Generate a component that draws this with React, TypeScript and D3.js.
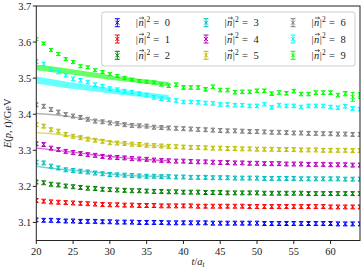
import * as d3 from 'd3';
import React from 'react';

const width = 363;
const height = 273;
const margin = { top: 6, right: 3, bottom: 32.5, left: 36.3 };

// t / a_t
const times = d3.range(20, 65);

const xTicks = [20, 25, 30, 35, 40, 45, 50, 55, 60];
const yTicks = [3.1, 3.2, 3.3, 3.4, 3.5, 3.6, 3.7];

// E(p,t) effective energies, one array per |n|^2
const e0 = [
  3.107, 3.106, 3.106, 3.105, 3.104, 3.104, 3.103, 3.103, 3.103, 3.102,
  3.102, 3.101, 3.101, 3.101, 3.100, 3.100, 3.100, 3.100, 3.099, 3.099,
  3.099, 3.099, 3.099, 3.099, 3.098, 3.098, 3.098, 3.098, 3.098, 3.098,
  3.098, 3.097, 3.097, 3.097, 3.097, 3.097, 3.097, 3.097, 3.097, 3.097,
  3.097, 3.096, 3.096, 3.096, 3.096,
];
const e1 = [
  3.161, 3.159, 3.157, 3.156, 3.155, 3.154, 3.153, 3.152, 3.151, 3.150,
  3.149, 3.149, 3.148, 3.148, 3.147, 3.147, 3.147, 3.146, 3.146, 3.146,
  3.146, 3.146, 3.145, 3.145, 3.145, 3.145, 3.145, 3.145, 3.145, 3.144,
  3.144, 3.144, 3.144, 3.144, 3.144, 3.144, 3.144, 3.144, 3.144, 3.144,
  3.143, 3.143, 3.143, 3.143, 3.143,
];
const e2 = [
  3.212, 3.210, 3.206, 3.204, 3.201, 3.199, 3.197, 3.195, 3.194, 3.192,
  3.191, 3.190, 3.189, 3.188, 3.188, 3.187, 3.186, 3.186, 3.185, 3.185,
  3.184, 3.184, 3.184, 3.183, 3.183, 3.183, 3.182, 3.182, 3.182, 3.182,
  3.182, 3.181, 3.181, 3.181, 3.181, 3.181, 3.181, 3.180, 3.180, 3.180,
  3.180, 3.180, 3.180, 3.180, 3.180,
];
const e3 = [
  3.267, 3.265, 3.256, 3.251, 3.246, 3.244, 3.242, 3.240, 3.237, 3.235,
  3.233, 3.232, 3.231, 3.230, 3.229, 3.228, 3.228, 3.227, 3.227, 3.226,
  3.226, 3.225, 3.225, 3.225, 3.224, 3.224, 3.224, 3.223, 3.223, 3.223,
  3.223, 3.222, 3.222, 3.222, 3.222, 3.222, 3.221, 3.221, 3.221, 3.221,
  3.221, 3.221, 3.220, 3.220, 3.220,
];
const e4 = [
  3.318, 3.316, 3.306, 3.302, 3.297, 3.294, 3.291, 3.288, 3.286, 3.283,
  3.281, 3.280, 3.279, 3.277, 3.276, 3.275, 3.273, 3.272, 3.271, 3.270,
  3.270, 3.269, 3.268, 3.268, 3.267, 3.266, 3.266, 3.265, 3.265, 3.264,
  3.264, 3.263, 3.263, 3.263, 3.262, 3.262, 3.262, 3.261, 3.261, 3.261,
  3.260, 3.260, 3.260, 3.259, 3.259,
];
const e5 = [
  3.371, 3.367, 3.357, 3.353, 3.344, 3.339, 3.335, 3.331, 3.328, 3.325,
  3.321, 3.320, 3.319, 3.317, 3.316, 3.314, 3.313, 3.312, 3.311, 3.310,
  3.309, 3.308, 3.308, 3.307, 3.306, 3.306, 3.305, 3.305, 3.304, 3.304,
  3.303, 3.303, 3.303, 3.302, 3.302, 3.302, 3.301, 3.301, 3.301, 3.300,
  3.300, 3.300, 3.300, 3.299, 3.299,
];
const e6 = [
  3.426, 3.422, 3.413, 3.406, 3.399, 3.395, 3.391, 3.386, 3.381, 3.379,
  3.376, 3.374, 3.371, 3.369, 3.368, 3.367, 3.364, 3.363, 3.362, 3.361,
  3.360, 3.359, 3.358, 3.357, 3.356, 3.355, 3.354, 3.354, 3.353, 3.352,
  3.352, 3.351, 3.350, 3.350, 3.349, 3.348, 3.348, 3.347, 3.347, 3.346,
  3.346, 3.345, 3.345, 3.344, 3.344,
];
const e8 = [
  3.546, 3.539, 3.524, 3.517, 3.508, 3.498, 3.494, 3.489, 3.482, 3.478,
  3.471, 3.468, 3.464, 3.461, 3.457, 3.453, 3.447, 3.443, 3.440, 3.438,
  3.434, 3.434, 3.433, 3.431, 3.430, 3.427, 3.427, 3.425, 3.425, 3.423,
  3.423, 3.428, 3.419, 3.425, 3.423, 3.423, 3.420, 3.423, 3.423, 3.423,
  3.420, 3.418, 3.422, 3.416, 3.414,
];
const e9 = [
  3.608, 3.596, 3.578, 3.567, 3.553, 3.545, 3.533, 3.530, 3.522, 3.517,
  3.511, 3.506, 3.501, 3.496, 3.492, 3.490, 3.488, 3.482, 3.479, 3.482,
  3.474, 3.474, 3.474, 3.469, 3.476, 3.467, 3.467, 3.461, 3.462, 3.462,
  3.465, 3.465, 3.457, 3.460, 3.458, 3.464, 3.456, 3.456, 3.460, 3.460,
  3.460, 3.453, 3.457, 3.448, 3.452,
];
// error on the |n|^2 = 9 points (grows at late t)
const err9 = [
  0.004, 0.004, 0.004, 0.004, 0.004, 0.004, 0.004, 0.004, 0.004, 0.004,
  0.004, 0.004, 0.004, 0.004, 0.004, 0.004, 0.004, 0.004, 0.005, 0.005,
  0.005, 0.005, 0.005, 0.005, 0.005, 0.005, 0.005, 0.005, 0.005, 0.005,
  0.005, 0.005, 0.005, 0.005, 0.005, 0.005, 0.005, 0.005, 0.005, 0.005,
  0.005, 0.005, 0.006, 0.012, 0.008,
];

// fit bands: centre and half width at bandT
const bandT = [20, 24, 28, 32, 36, 38];
const fit9 = [3.530, 3.520, 3.508, 3.497, 3.488, 3.483];
const fit9w = [0.008, 0.0075, 0.007, 0.0065, 0.006, 0.006];
const fit8 = [3.495, 3.482, 3.471, 3.460, 3.451, 3.446];
const fit8w = [0.0095, 0.009, 0.008, 0.0075, 0.007, 0.007];
const fit6 = [3.402, 3.395, 3.383, 3.372, 3.365, 3.363];
const fit5 = [3.349, 3.342, 3.330, 3.319, 3.313, 3.311];
const fit4 = [3.306, 3.297, 3.287, 3.279, 3.273, 3.271];
const fit3 = [3.256, 3.246, 3.239, 3.231, 3.228, 3.227];
const thinW = [0.002, 0.002, 0.002, 0.002, 0.002, 0.002];

const labels = ['0', '1', '2', '3', '4', '5', '6', '8', '9'];
const colors = ['#0000ff', '#ff0000', '#008000', '#00bfbf', '#bf00bf', '#bfbf00', '#808080', '#00ffff', '#00ff00'];
const values = [e0, e1, e2, e3, e4, e5, e6, e8, e9];
const baseErr = [0.0055, 0.0055, 0.0055, 0.0055, 0.0055, 0.0055, 0.0055, 0.005, 0];

const bands = [
  { c: fit3, w: thinW, color: '#00bfbf', op: 0.6 },
  { c: fit4, w: thinW, color: '#bf00bf', op: 0.6 },
  { c: fit5, w: thinW, color: '#bfbf00', op: 0.6 },
  { c: fit6, w: thinW, color: '#808080', op: 0.6 },
  { c: fit8, w: fit8w, color: '#00ffff', op: 0.6 },
  { c: fit9, w: fit9w, color: '#00ff00', op: 0.6 },
];

const serif = "'Liberation Serif', 'DejaVu Serif', serif";

const ErrMark = ({ x, y, lo, hi, color, cap }: { x: number; y: number; lo: number; hi: number; color: string; cap: number }) => (
  <g stroke={color} strokeWidth={1} fill="none">
    <path d={`M${x},${lo}V${hi}M${x - cap},${lo}H${x + cap}M${x - cap},${hi}H${x + cap}`} />
    <path d={`M${x - 2},${y - 2}L${x + 2},${y + 2}M${x - 2},${y + 2}L${x + 2},${y - 2}`} />
  </g>
);

// |n⃗|² = k, pieces placed one by one so the vector arrow sits over the n
const NLabel = ({ x, y, n }: { x: number; y: number; n: string }) => (
  <g fontFamily={serif} fontSize={10.5} fill="#222">
    <text x={x} y={y}>|</text>
    <text x={x + 2.6} y={y} fontStyle="italic">n</text>
    <path d={`M${x + 3.4},${y - 8.3}H${x + 8}M${x + 6.6},${y - 9.5}L${x + 8},${y - 8.3}L${x + 6.6},${y - 7.1}`} stroke="#222" strokeWidth={0.7} fill="none" />
    <text x={x + 8.3} y={y}>|</text>
    <text x={x + 10.6} y={y - 4.2} fontSize={7.5}>2</text>
    <text x={x + 17.5} y={y}>=</text>
    <text x={x + 29} y={y}>{n}</text>
  </g>
);

export default function App() {
  const x = d3.scaleLinear().domain([20, 64]).range([margin.left, width - margin.right]);
  const y = d3.scaleLinear().domain([3.05, 3.7]).range([height - margin.bottom, margin.top]);
  const x0 = margin.left;
  const x1 = width - margin.right;
  const y0 = height - margin.bottom;
  const y1 = margin.top;

  const area = d3
    .area<number>()
    .x((_, i) => x(bandT[i]))
    .curve(d3.curveMonotoneX);

  return (
    <svg width={width} height={height} style={{ position: 'absolute', left: 0, top: 0 }}>
      <defs>
        <clipPath id="plot">
          <rect x={x0} y={y1} width={x1 - x0} height={y0 - y1} />
        </clipPath>
      </defs>
      <rect width={width} height={height} fill="#fff" />
      <g clipPath="url(#plot)">
        {bands.map((b, k) => (
          <path
            key={k}
            d={area.y0((v, i) => y(v - b.w[i])).y1((v, i) => y(v + b.w[i]))(b.c) || ''}
            fill={b.color}
            fillOpacity={b.op}
          />
        ))}
        {values.map((vals, s) =>
          vals.map((v, i) => {
            const e = s === 8 ? err9[i] : baseErr[s];
            return (
              <ErrMark key={`${s}-${i}`} x={x(times[i])} y={y(v)} lo={y(v - e)} hi={y(v + e)} color={colors[s]} cap={2} />
            );
          })
        )}
      </g>
      <rect x={x0} y={y1} width={x1 - x0} height={y0 - y1} fill="none" stroke="#222" strokeWidth={1} />
      {xTicks.map((t) => (
        <g key={t}>
          <line x1={x(t)} x2={x(t)} y1={y0} y2={y0 + 3.5} stroke="#222" />
          <text x={x(t)} y={y0 + 14} textAnchor="middle" fontFamily={serif} fontSize={10.5} fill="#222">
            {t}
          </text>
        </g>
      ))}
      {yTicks.map((t) => (
        <g key={t}>
          <line x1={x0 - 3.5} x2={x0} y1={y(t)} y2={y(t)} stroke="#222" />
          <text x={x0 - 5} y={y(t) + 3.6} textAnchor="end" fontFamily={serif} fontSize={10.5} fill="#222">
            {t.toFixed(1)}
          </text>
        </g>
      ))}
      <text x={198} y={265} textAnchor="middle" fontFamily={serif} fontSize={10.5} fill="#222">
        <tspan fontStyle="italic">t</tspan>
        <tspan>/</tspan>
        <tspan fontStyle="italic">a</tspan>
        <tspan fontStyle="italic" fontSize={7.5} dy={2}>t</tspan>
      </text>
      <text
        transform={`translate(11,${(y0 + y1) / 2}) rotate(-90)`}
        textAnchor="middle"
        fontFamily={serif}
        fontSize={10.5}
        fill="#222"
      >
        <tspan fontStyle="italic">E</tspan>
        <tspan>(</tspan>
        <tspan fontStyle="italic">p</tspan>
        <tspan>, </tspan>
        <tspan fontStyle="italic">t</tspan>
        <tspan>)/GeV</tspan>
      </text>
      <rect x={101.7} y={12} width={253.3} height={54} rx={2.5} fill="#fff" fillOpacity={0.8} stroke="#ccc" strokeWidth={1} />
      {labels.map((lab, k) => {
        const col = Math.floor(k / 3);
        const row = k % 3;
        const mx = [117.3, 206, 293][col];
        const my = 22.7 + row * 16.3;
        return (
          <g key={lab}>
            <ErrMark x={mx} y={my} lo={my + 4} hi={my - 4} color={colors[k]} cap={2.5} />
            <NLabel x={mx + 18.5} y={my + 3.6} n={lab} />
          </g>
        );
      })}
    </svg>
  );
}
